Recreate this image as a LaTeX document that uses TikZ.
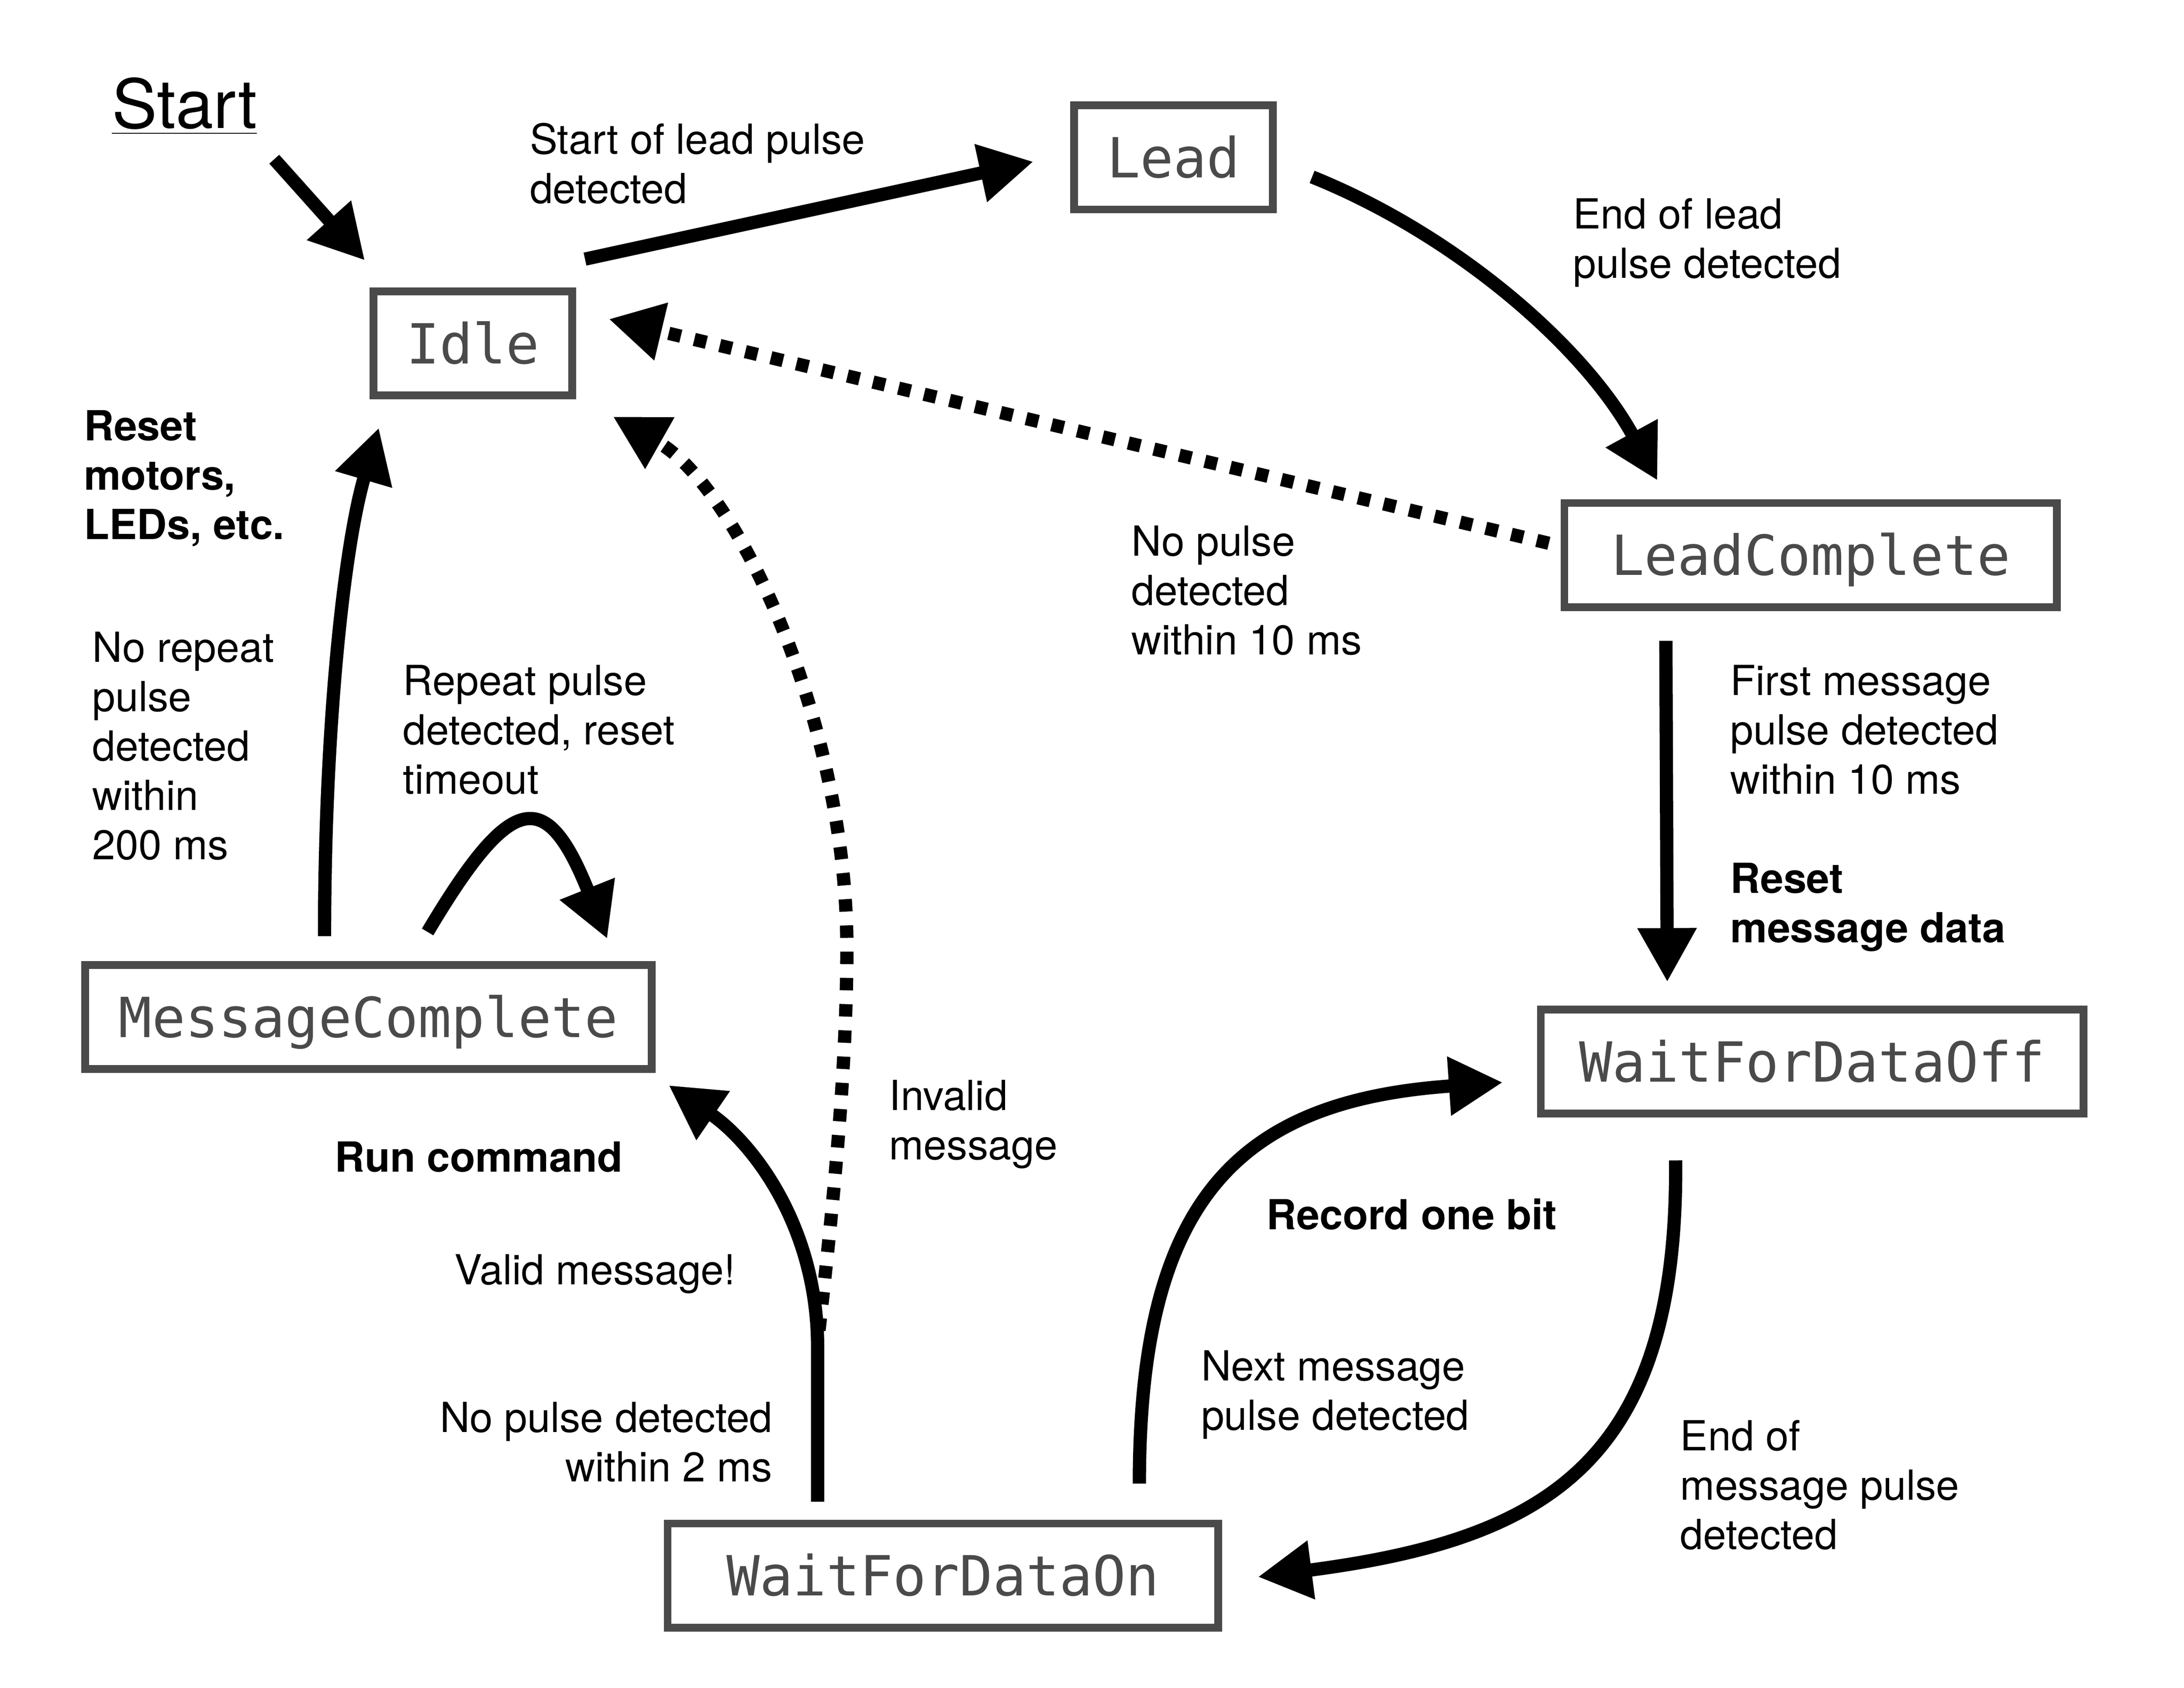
\documentclass[tikz,border=0pt]{standalone}
\usepackage{fontspec}
\setmainfont{TeX Gyre Heros}
\newfontfamily\statefont{DejaVu Sans Mono}
\usetikzlibrary{arrows.meta,calc}
\definecolor{boxgray}{HTML}{4A4A4A}

\begin{document}
\begin{tikzpicture}[x=0.017538cm,y=-0.017538cm,
  statebox/.style={draw=boxgray, line width=2.77pt, text=boxgray, inner sep=0pt,
    font=\statefont\fontsize{19.8}{23.8}\selectfont, text height=14.45pt, text depth=0pt,
    minimum height=1.31cm},
  lbl/.style={inner sep=0pt, anchor=north west, align=left, font=\fontsize{14.85}{17.7}\selectfont},
  lblb/.style={lbl, font=\fontsize{14.85}{17.7}\selectfont\bfseries},
  trans/.style={line width=4.75pt, -{Triangle[width=0.70cm,length=0.68cm]}},
  dotrans/.style={trans, dash pattern=on 4.45pt off 4.95pt}]
\useasboundingbox (0,0) rectangle (1568,1211.6);

% states
\node[lbl, anchor=base west, font=\fontsize{24.3}{28.7}\selectfont] (start) at (80,92) {\underline{Start}};
\node[statebox, minimum width=2.50cm] (idle) at (339.5,246.5) {Idle};
\node[statebox, minimum width=2.50cm] (lead) at (842.5,113) {Lead};
\node[statebox, minimum width=6.20cm] (leadc) at (1300,398.5) {LeadComplete};
\node[statebox, minimum width=6.83cm] (wdoff) at (1301,762) {WaitForDataOff};
\node[statebox, minimum width=7.13cm] (msgc) at (264.5,730) {MessageComplete};
\node[statebox, minimum width=6.93cm] (wdon) at (677,1131) {WaitForDataOn};

% transitions
\draw[trans] ($(start.south east)+(12,17)$) -- ($(idle)+(-77.5,-59.5)$);
\draw[trans] ($(idle)+(80.5,-60.5)$) -- ($(lead)+(-100.5,3)$);
\draw[trans] ($(lead)+(99.5,14)$) .. controls +(102,41) and +(-53,-97) .. ($(leadc)+(-110,-53.5)$);
\draw[dotrans] ($(leadc)+(-188,-8.5)$) -- ($(idle)+(97.5,-17.5)$);
\draw[trans] ($(leadc)+(-104,61.5)$) -- ($(wdoff)+(-104,-57)$);
\draw[trans] ($(wdoff)+(-98,71)$) .. controls +(2,217) and +(207,-27) .. ($(wdon)+(226,1)$);
\draw[trans] ($(wdon)+(141,-66)$) .. controls +(0,-205) and +(-189,13) .. ($(wdoff)+(-222,15)$);
\draw[trans] ($(wdon)+(-90,-53)$) -- ++(0,-111) .. controls +(0,-87) and +(60,41) .. ($(msgc)+(215.5,49)$);
\draw[dotrans] ($(wdon)+(-89,-176)$) .. controls +(12,-105) and +(0,80) .. ++(20,-275)
  .. controls +(0,-160) and +(90,51) .. ($(idle)+(100.5,52.5)$);
\draw[trans] ($(msgc)+(-31.5,-58)$) .. controls +(0,-150) and +(-25,85) .. ($(idle)+(-67.5,60.5)$);
\draw[trans] ($(msgc)+(42.5,-61)$) .. controls +(60,-101) and +(-44,-110) .. ($(msgc)+(171.5,-56)$);

% labels
\node[lbl] (l1) at (380,88) {Start of lead pulse\\detected};
\node[lbl] (l2) at (1129,142) {End of lead\\pulse detected};
\node[lbl] (l3) at (812,377) {No pulse\\detected\\within 10 ms};
\node[lbl] (l4) at (1242,477) {First message\\pulse detected\\within 10 ms};
\node[lblb] (l5) at (1242,619) {Reset\\message data};
\node[lblb] (l6) at (60,294) {Reset\\motors,\\LEDs, etc.};
\node[lbl] (l7) at (66,453) {No repeat\\pulse\\detected\\within\\200 ms};
\node[lbl] (l8) at (289,477) {Repeat pulse\\detected, reset\\timeout};
\node[lbl] (l9) at (638,775) {Invalid\\message};
\node[lblb] (l10) at (240,819) {Run command};
\node[lbl] (l11) at (326,900) {Valid message!};
\node[lbl, anchor=north east, align=right] (l12) at (555,1006) {No pulse detected\\within 2 ms};
\node[lblb] (l13) at (909,860) {Record one bit};
\node[lbl] (l14) at (862,969) {Next message\\pulse detected};
\node[lbl] (l15) at (1206,1019) {End of\\message pulse\\detected};
\end{tikzpicture}
\end{document}
